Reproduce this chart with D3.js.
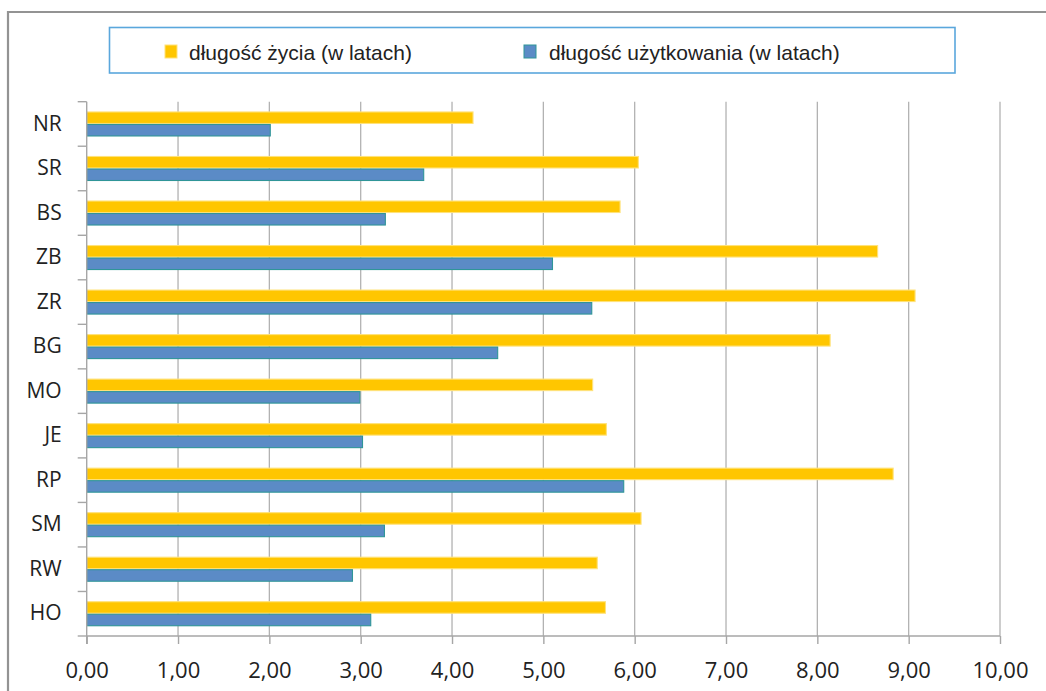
<!DOCTYPE html>
<html>
<head>
<meta charset="utf-8">
<script src="https://cdn.jsdelivr.net/npm/d3@7"></script>
<style>
  html, body { margin: 0; padding: 0; background: #fff; }
  svg { display: block; }
</style>
</head>
<body>
<svg id="chart" width="1046" height="691"></svg>
<script>
const categories = ["NR","SR","BS","ZB","ZR","BG","MO","JE","RP","SM","RW","HO"];
const lifeYears  = [4.23, 6.04, 5.84, 8.66, 9.07, 8.14, 5.54, 5.69, 8.83, 6.07, 5.59, 5.68];
const useYears   = [2.01, 3.69, 3.27, 5.10, 5.53, 4.50, 2.99, 3.02, 5.88, 3.26, 2.91, 3.11];
const seriesNames = ["długość życia (w latach)", "długość użytkowania (w latach)"];
const xTickValues = [0,1,2,3,4,5,6,7,8,9,10];

const seriesValues = [lifeYears, useYears];
const fills   = ["#FFC600", "#5B8BC6"];
const strokes = ["#FFE27A", "#2F9598"];

const svg = d3.select("#chart");

// outer chart border
svg.append("path")
  .attr("d", "M8,700 L8,12 L1060,12")
  .attr("fill", "none").attr("stroke", "#939393").attr("stroke-width", 2.2);

const plot = { left: 86.7, right: 1000, top: 101.7, bottom: 636 };

const x = d3.scaleLinear().domain([0, 10]).range([plot.left, plot.right]);
const y = d3.scaleBand().domain(categories).range([plot.top, plot.bottom]).padding(0);
const ys = d3.scaleBand().domain(seriesNames).range([0, y.bandwidth()]).paddingInner(0).paddingOuter(0.78);

// gridlines
svg.append("g").selectAll("line")
  .data(xTickValues.filter(d => d > 0))
  .join("line")
  .attr("x1", d => x(d)).attr("x2", d => x(d))
  .attr("y1", plot.top).attr("y2", plot.bottom)
  .attr("stroke", "#B2B2B2").attr("stroke-width", 1.3);

// bars
const rows = categories.map((c, i) => ({ c, vals: seriesNames.map((s, j) => ({ s, j, v: seriesValues[j][i] })) }));
const groups = svg.append("g").selectAll("g")
  .data(rows).join("g")
  .attr("transform", d => `translate(0,${y(d.c)})`);
groups.selectAll("rect")
  .data(d => d.vals).join("rect")
  .attr("x", x(0))
  .attr("y", d => ys(d.s) + 0.5)
  .attr("width", d => x(d.v) - x(0))
  .attr("height", ys.bandwidth() - 1)
  .attr("fill", d => fills[d.j])
  .attr("stroke", d => strokes[d.j])
  .attr("stroke-width", 1.1);

// x axis
const xAxis = d3.axisBottom(x)
  .tickValues(xTickValues)
  .tickFormat(d => d.toFixed(2).replace(".", ","))
  .tickSize(8).tickPadding(18);
const gx = svg.append("g").attr("transform", `translate(0,${plot.bottom})`).call(xAxis);
gx.select(".domain").attr("stroke", "#A6A6A6").attr("stroke-width", 1.4)
  .attr("d", `M${plot.left},0H${plot.right}`);
gx.selectAll(".tick line").attr("stroke", "#A6A6A6").attr("stroke-width", 1.4);
gx.selectAll(".tick text")
  .attr("font-family", "'Open Sans', sans-serif")
  .attr("font-size", 22).attr("fill", "#222");

// y axis
const yAxis = d3.axisLeft(y).tickSize(0).tickPadding(25);
const gy = svg.append("g").attr("transform", `translate(${plot.left},0)`).call(yAxis);
gy.select(".domain").attr("stroke", "#A6A6A6").attr("stroke-width", 1.4)
  .attr("d", `M0,${plot.top}V${plot.bottom + 8}`);
gy.selectAll(".tick text")
  .attr("font-family", "'Open Sans', sans-serif")
  .attr("font-size", 21).attr("fill", "#222");
// category boundary ticks
gy.append("g").selectAll("line")
  .data(categories.map(c => y(c)).concat([plot.bottom]))
  .join("line")
  .attr("x1", -9).attr("x2", 0)
  .attr("y1", d => d).attr("y2", d => d)
  .attr("stroke", "#A6A6A6").attr("stroke-width", 1.4);

// legend
const legend = svg.append("g");
legend.append("rect")
  .attr("x", 109.5).attr("y", 27.5).attr("width", 845.5).attr("height", 45.5)
  .attr("fill", "#fff").attr("stroke", "#5AA7DC").attr("stroke-width", 1.6);
const legendX = [165, 524];
const legendTextX = [189, 549];
seriesNames.forEach((s, j) => {
  legend.append("rect")
    .attr("x", legendX[j]).attr("y", 45).attr("width", 12).attr("height", 13)
    .attr("fill", fills[j]).attr("stroke", strokes[j]).attr("stroke-width", 1);
  legend.append("text")
    .attr("x", legendTextX[j]).attr("y", 60)
    .attr("font-family", "'Liberation Sans', Arial, sans-serif")
    .attr("font-size", 21).attr("fill", "#222")
    .text(s);
});
</script>
</body>
</html>
